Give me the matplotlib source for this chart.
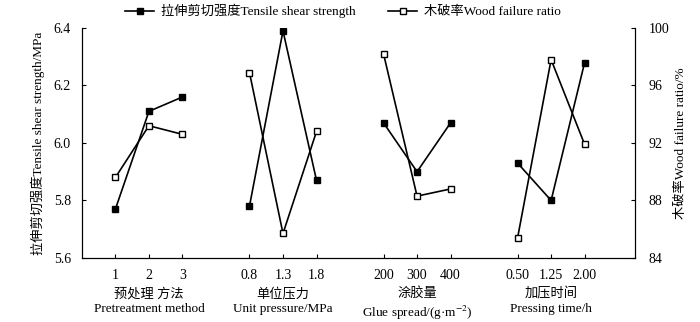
import numpy as np
import matplotlib
matplotlib.use('Agg')
import matplotlib.pyplot as plt

plt.rcParams['font.family'] = ['Liberation Serif', 'Noto Sans CJK SC']
plt.rcParams['mathtext.fontset'] = 'stix'

# factor levels, one group per factor
tick_labels = [['1', '2', '3'],
               ['0.8', '1.3', '1.8'],
               ['200', '300', '400'],
               ['0.50', '1.25', '2.00']]
group_names = ['预处理 方法\nPretreatment method',
               '单位压力\nUnit pressure/MPa',
               '涂胶量\nGlue spread/(g·m$^{-2}$)',
               '加压时间\nPressing time/h']

strength = [[5.77, 6.11, 6.16],
            [5.78, 6.39, 5.87],
            [6.07, 5.90, 6.07],
            [5.93, 5.80, 6.28]]
wood_failure = [[89.6, 93.2, 92.6],
                [96.9, 85.7, 92.8],
                [98.2, 88.3, 88.8],
                [85.4, 97.8, 91.9]]

fig = plt.figure(figsize=(7, 3.22), dpi=100)
ax = fig.add_axes([0.117, 0.199, 0.790, 0.714])
ax2 = ax.twinx()

xpos = []
for i in range(4):
    x = np.arange(3) + 1 + 4 * i
    xpos.append(x)
    l1, = ax.plot(x, strength[i], color='black', lw=1.2, marker='s', ms=4.5,
                  mfc='black', mec='black')
    l2, = ax2.plot(x, wood_failure[i], color='black', lw=1.2, marker='s', ms=4.5,
                   mfc='white', mec='black', mew=1.0)

ax.set_xlim(0, 16.5)
ax.set_ylim(5.6, 6.4)
ax.set_yticks([5.6, 5.8, 6.0, 6.2, 6.4])
ax.set_yticklabels(['5.6', '5.8', '6.0', '6.2', '6.4'])
ax2.set_ylim(84, 100)
ax2.set_yticks([84, 88, 92, 96, 100])

allx = np.concatenate(xpos)
ax.set_xticks(allx)
ax.set_xticklabels([t for g in tick_labels for t in g])

for a in (ax, ax2):
    a.spines['top'].set_visible(False)
    a.tick_params(direction='in', length=3, width=0.8, labelsize=10)
ax.tick_params(axis='x', pad=8)
ax.tick_params(axis='y', pad=8)
ax2.tick_params(axis='y', pad=10)

ax.set_ylabel('拉伸剪切强度Tensile shear strength/MPa', fontsize=9.5, labelpad=6)
ax2.set_ylabel('木破率Wood failure ratio/%', fontsize=9.5, labelpad=4)

for i in range(4):
    ax.text(xpos[i][1], -0.128, group_names[i], transform=ax.get_xaxis_transform(),
            ha='center', va='top', fontsize=9.5, linespacing=1.3)

fig.legend([l1, l2], ['拉伸剪切强度Tensile shear strength', '木破率Wood failure ratio'],
           loc='upper center', bbox_to_anchor=(0.49, 1.025), ncol=2, frameon=False,
           fontsize=9.5, handlelength=2.2, columnspacing=2.5, handletextpad=0.5)

fig.savefig('out.png', dpi=100)
